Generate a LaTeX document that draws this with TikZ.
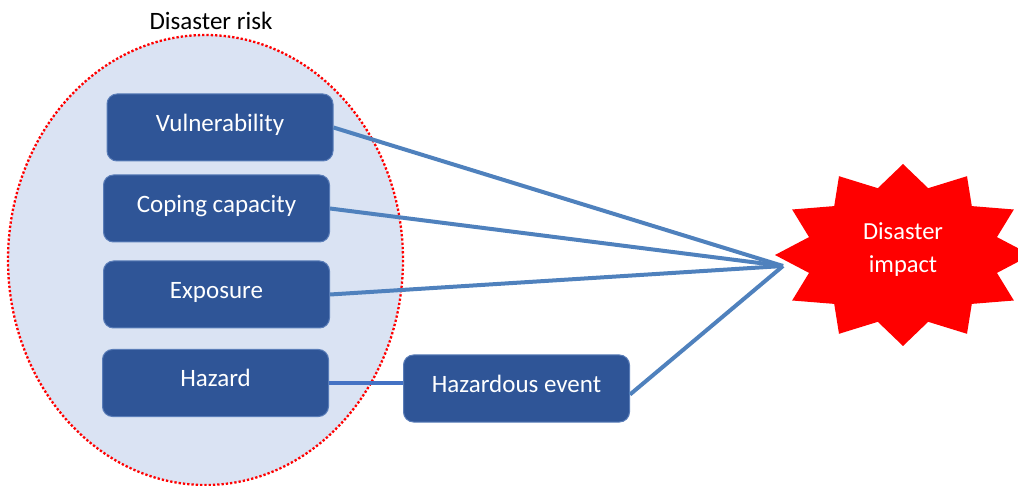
\documentclass[tikz,border=0pt]{standalone}
\usepackage{fontspec}
\setmainfont{Carlito}
\definecolor{boxfill}{HTML}{2F5597}
\definecolor{boxline}{HTML}{5A7DB8}
\definecolor{ellfill}{HTML}{DAE3F3}
\definecolor{linkcol}{HTML}{4F81BD}
\definecolor{hazlink}{HTML}{4472C4}
\tikzset{
  factor/.style={draw=boxline, line width=1pt, fill=boxfill, rounded corners=10pt,
    minimum width=226pt, minimum height=67pt, text=white, inner sep=0pt,
    text height=18pt, text depth=10pt,
    font=\fontsize{25}{30}\selectfont},
  link/.style={draw=linkcol, line width=4pt},
  risk/.style={fill=ellfill, draw=red, line width=2.3pt, dash pattern=on 2.3pt off 2pt},
}
\begin{document}
\begin{tikzpicture}[x=1pt, y=-1pt]
\useasboundingbox (0,0) rectangle (1018,486);
\clip (0,0) rectangle (1018,486);
% disaster risk ellipse
\draw[risk] (205.5,260) ellipse [x radius=197.5, y radius=225];
\node[font=\fontsize{25}{30}\selectfont, inner sep=0pt] (risklabel) at (211,21) {Disaster risk};
% factor boxes
\node[factor] (vuln) at (220,127.5) {Vulnerability};
\node[factor] (coping) at (216.5,208.5) {Coping capacity};
\node[factor] (expo) at (216.5,294.5) {Exposure};
\node[factor] (hazard) at (215.5,383) {Hazard};
\node[factor] (event) at (516.5,388.5) {Hazardous event};
% star
\fill[red] plot[samples at={0,15,...,345}]
  ({903+128*cos(\x)*(mod(\x,30)==0 ? 1 : 0.76)}, {255-91*sin(\x)*(mod(\x,30)==0 ? 1 : 0.76)}) -- cycle;
\node[text=white, align=center, font=\fontsize{24.5}{33}\selectfont, inner sep=0pt] (impact) at (903,250) {Disaster\\impact};
\coordinate (hub) at (783,266);
% connectors
\draw[link] (vuln.east) -- (hub);
\draw[link] (coping.east) -- (hub);
\draw[link] (expo.east) -- (hub);
\draw[link] ([yshift=-6pt]event.east) -- (hub);
\draw[draw=hazlink, line width=4pt] (hazard.east) -- (hazard.east -| event.west);
\end{tikzpicture}
\end{document}
